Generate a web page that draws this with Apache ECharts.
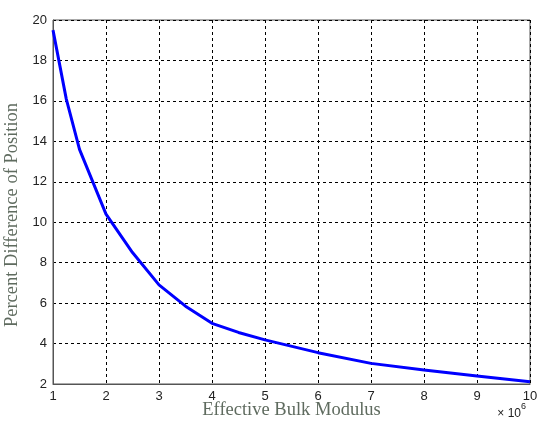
<!DOCTYPE html>
<html>
<head>
<meta charset="utf-8">
<script src="https://cdn.jsdelivr.net/npm/echarts@6/dist/echarts.min.js"></script>
<style>
  html, body { margin: 0; padding: 0; background: #fff; }
  #chart { width: 538px; height: 425px; }
</style>
</head>
<body>
<div id="chart"></div>
<script>
// Effective bulk modulus (×10^6) and percent difference of position
const modulus = [1, 1.25, 1.5, 2, 2.5, 3, 3.5, 4, 4.5, 5, 6, 7, 8, 9, 10];
const percentDiff = [19.5, 16.1, 13.6, 10.4, 8.5, 6.9, 5.85, 5.0, 4.55, 4.18, 3.55, 3.02, 2.69, 2.4, 2.11];
const xTicks = [1, 2, 3, 4, 5, 6, 7, 8, 9, 10];
const yTicks = [2, 4, 6, 8, 10, 12, 14, 16, 18, 20];

const points = modulus.map((x, i) => [x, percentDiff[i]]);

const chart = echarts.init(document.getElementById('chart'), null, { renderer: 'canvas' });

const gridLine = { show: true, lineStyle: { color: '#000', type: [3, 3], width: 1 } };
const tickFont = { fontFamily: 'Liberation Sans, Arial, sans-serif', fontSize: 13, color: '#222' };
const titleFont = { fontFamily: 'Liberation Serif, Times New Roman, serif', fontSize: 18.5, color: '#5f6b5f' };

chart.setOption({
  animation: false,
  backgroundColor: '#fff',
  grid: {
    left: 53, right: 8, top: 20, bottom: 41,
    outerBoundsMode: 'none',
    containLabel: false,
    show: true, borderColor: '#555', borderWidth: 1
  },
  xAxis: {
    type: 'value',
    min: xTicks[0],
    max: xTicks[xTicks.length - 1],
    interval: 1,
    name: 'Effective Bulk Modulus',
    nameLocation: 'middle',
    nameGap: 17,
    nameMoveOverlap: false,
    nameTextStyle: titleFont,
    axisLine: { show: true, lineStyle: { color: '#555', width: 1 } },
    axisTick: { show: false },
    axisLabel: Object.assign({ margin: 6 }, tickFont),
    splitLine: gridLine
  },
  yAxis: {
    type: 'value',
    min: yTicks[0],
    max: yTicks[yTicks.length - 1],
    interval: 2,
    name: 'Percent Difference of Position',
    nameLocation: 'middle',
    nameGap: 28,
    nameTextStyle: Object.assign({ padding: [0, 26, 0, 0] }, titleFont),
    axisLine: { show: true, lineStyle: { color: '#555', width: 1 } },
    axisTick: { show: false },
    axisLabel: Object.assign({ margin: 6 }, tickFont),
    splitLine: gridLine
  },
  graphic: [{
    type: 'text',
    right: 12,
    top: 402,
    style: {
      rich: {
        b: { fontFamily: 'Liberation Sans, Arial, sans-serif', fontSize: 12, fill: '#222', padding: [6, 0, 0, 0] },
        e: { fontFamily: 'Liberation Sans, Arial, sans-serif', fontSize: 9, fill: '#222', verticalAlign: 'top' }
      },
      text: '{b|× 10}{e|6}'
    }
  }],
  series: [{
    type: 'line',
    data: points,
    smooth: false,
    showSymbol: false,
    lineStyle: { color: '#0000ff', width: 3 },
    itemStyle: { color: '#0000ff' }
  }]
});
</script>
</body>
</html>
